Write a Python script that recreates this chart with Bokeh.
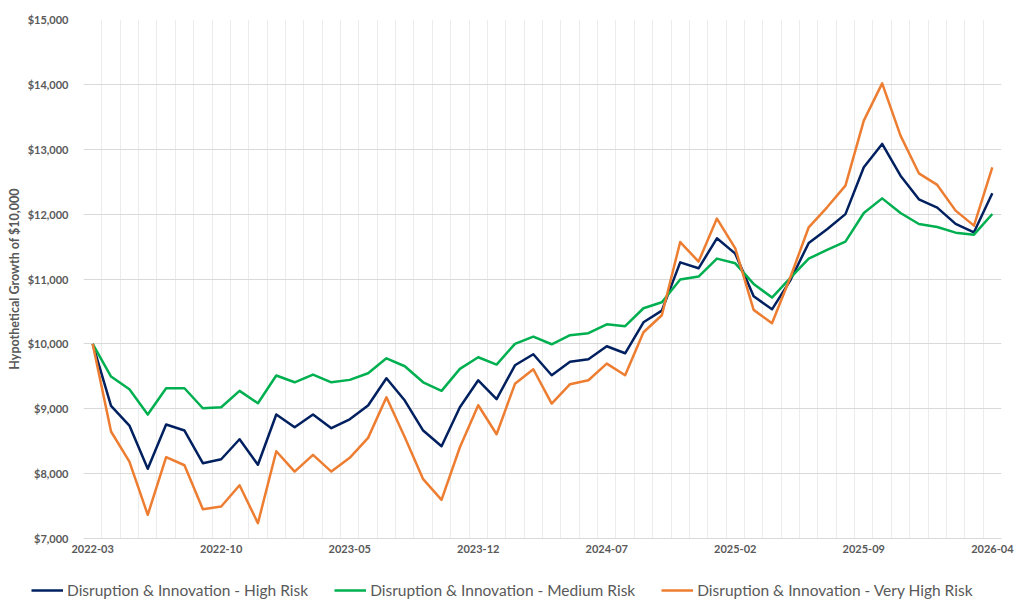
from bokeh.plotting import figure
from bokeh.models import (Legend, LegendItem, FixedTicker, NumeralTickFormatter,
                          Range1d, ColumnDataSource)
from bokeh.embed import file_html
from bokeh.resources import INLINE
import pandas as pd

# Monthly observation dates (month-end values)
months = [str(p) for p in pd.period_range("2022-03", "2026-04", freq="M")]

# Hypothetical growth of $10,000 for each portfolio
high_risk = [10000, 9045, 8741, 8074, 8757, 8664, 8161, 8222, 8530, 8136,
             8911, 8715, 8911, 8700, 8838, 9049, 9470, 9126, 8664, 8422,
             9023, 9439, 9147, 9670, 9840, 9516, 9723, 9763, 9963, 9855,
             10333, 10513, 11257, 11165, 11627, 11391, 10734, 10533, 10980, 11555,
             11766, 12000, 12722, 13082, 12593, 12228, 12100, 11849, 11720, 12321]
medium_risk = [10000, 9496, 9300, 8910, 9316, 9316, 9008, 9023, 9276, 9085,
               9512, 9408, 9527, 9408, 9445, 9547, 9778, 9655, 9408, 9276,
               9614, 9794, 9681, 10000, 10112, 9994, 10133, 10164, 10302, 10272,
               10549, 10641, 10991, 11037, 11314, 11242, 10924, 10713, 11017, 11314,
               11448, 11576, 12017, 12243, 12017, 11847, 11801, 11714, 11683, 12002]
very_high_risk = [10000, 8649, 8186, 7365, 8253, 8129, 7451, 7493, 7821, 7236,
                  8345, 8032, 8290, 8032, 8243, 8551, 9177, 8561, 7914, 7596,
                  8407, 9054, 8607, 9384, 9609, 9080, 9378, 9439, 9696, 9516,
                  10179, 10441, 11570, 11268, 11932, 11473, 10524, 10318, 11027, 11797,
                  12105, 12439, 13441, 14015, 13210, 12629, 12450, 12054, 11823, 12721]

series_cols = ["high", "medium", "very_high"]
series_names = ["Disruption & Innovation - High Risk",
                "Disruption & Innovation - Medium Risk",
                "Disruption & Innovation - Very High Risk"]
series_colors = ["#002060", "#00B050", "#ED7D31"]

label_every = 7
tick_positions = list(range(0, len(months), label_every))

source = ColumnDataSource(dict(
    x=list(range(len(months))),
    month=months,
    high=high_risk,
    medium=medium_risk,
    very_high=very_high_risk,
))

TEXT = "#595959"
FONT = "Lato"

# ---- main chart ----
p = figure(width=1017, height=570, output_backend="svg", toolbar_location=None,
           x_range=Range1d(-0.5, len(months) - 0.5), y_range=Range1d(7000, 15000),
           min_border_left=83, min_border_right=16, min_border_top=19,
           min_border_bottom=32, background_fill_color="white",
           border_fill_color="white", outline_line_color=None)

p.xaxis.ticker = FixedTicker(ticks=tick_positions)
p.xaxis.major_label_overrides = {i: months[i] for i in tick_positions}
p.xaxis.major_tick_line_color = None
p.xaxis.major_tick_out = 0
p.xaxis.minor_tick_line_color = None
p.xaxis.axis_line_color = "#d9d9d9"
p.xaxis.axis_line_width = 1
p.xaxis.major_label_text_font = FONT
p.xaxis.major_label_text_font_style = "bold"
p.xaxis.major_label_text_font_size = "11px"
p.xaxis.major_label_text_color = TEXT
p.xaxis.major_label_standoff = 6

p.yaxis.ticker = FixedTicker(ticks=list(range(7000, 15001, 1000)))
p.yaxis.formatter = NumeralTickFormatter(format="$0,0")
p.yaxis.axis_line_color = None
p.yaxis.major_tick_line_color = None
p.yaxis.minor_tick_line_color = None
p.yaxis.major_label_text_font = FONT
p.yaxis.major_label_text_font_style = "bold"
p.yaxis.major_label_text_font_size = "11px"
p.yaxis.major_label_text_color = TEXT
p.yaxis.major_label_standoff = 9
p.yaxis.axis_label = "Hypothetical Growth of $10,000"
p.yaxis.axis_label_text_font = FONT
p.yaxis.axis_label_text_font_style = "bold"
p.yaxis.axis_label_text_font_size = "12.5px"
p.yaxis.axis_label_text_color = TEXT
p.yaxis.axis_label_standoff = 3

# Grid: horizontal at each $1,000, vertical at every month boundary
p.ygrid.grid_line_color = "#d9d9d9"
p.ygrid.grid_line_width = 1
p.xgrid.ticker = FixedTicker(ticks=[i - 0.5 for i in range(len(months) + 1)])
p.xgrid.grid_line_color = "#ececec"
p.xgrid.grid_line_width = 1

for col, color in zip(series_cols, series_colors):
    p.line("x", col, source=source, line_color=color, line_width=2.5,
           line_join="round")

# ---- legend strip beneath the chart ----
# The same series are drawn here outside the visible range, so only the
# legend entries show.
key = figure(width=1017, height=46, output_backend="svg", toolbar_location=None,
             x_range=Range1d(0, 1), y_range=Range1d(0, 1),
             x_axis_location=None, y_axis_location=None,
             min_border=0, outline_line_color=None,
             background_fill_color="white", border_fill_color="white")
key.grid.visible = False

key_renderers = [key.line("x", col, source=source, line_color=color,
                          line_width=2.5)
                 for col, color in zip(series_cols, series_colors)]

legend = Legend(items=[LegendItem(label=n, renderers=[r])
                       for n, r in zip(series_names, key_renderers)],
                orientation="horizontal", location=(31, 16),
                label_text_font=FONT, label_text_font_size="15.5px",
                label_text_color=TEXT, glyph_width=32, glyph_height=20,
                label_standoff=4, spacing=26, padding=0, margin=0,
                border_line_color=None, background_fill_alpha=0)
key.add_layout(legend, "center")

# Chart and legend strip are stacked as two independent roots
open("out.html", "w").write(file_html([p, key], INLINE))
